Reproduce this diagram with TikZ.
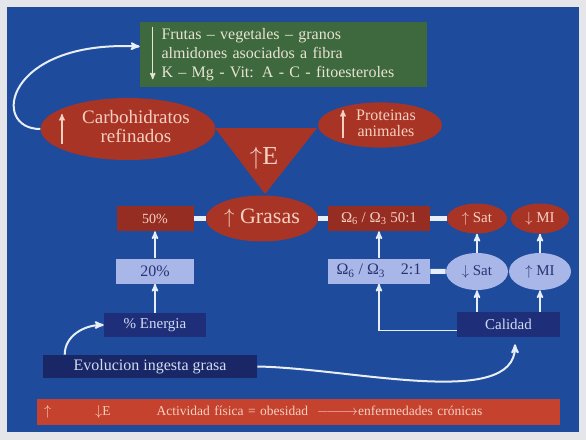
\documentclass[tikz,border=0pt]{standalone}
\usepackage{fontspec}
\setmainfont{Liberation Serif}
\usetikzlibrary{arrows,shapes.geometric}
\definecolor{fondo}{RGB}{30,75,155}
\definecolor{marco}{RGB}{228,230,234}
\definecolor{rojo}{RGB}{168,52,38}
\definecolor{rojoosc}{RGB}{150,45,35}
\definecolor{barra}{RGB}{196,66,46}
\definecolor{verde}{RGB}{62,104,62}
\definecolor{celeste}{RGB}{168,182,232}
\definecolor{azulosc}{RGB}{30,46,120}
\definecolor{rosa}{RGB}{246,208,192}
\definecolor{crema}{RGB}{232,228,210}
\definecolor{tinta}{RGB}{40,52,115}
\definecolor{linea}{RGB}{232,238,248}

\begin{document}
\begin{tikzpicture}[x=1pt,y=-1pt,>=stealth',semithick,
    roja/.style={shape=ellipse,fill=rojo,text=rosa,inner sep=0pt},
    cajaroja/.style={fill=rojoosc,text=rosa,inner sep=0pt},
    clara/.style={shape=ellipse,fill=celeste,text=tinta,inner sep=0pt},
    cajaclara/.style={fill=celeste,text=tinta,inner sep=0pt},
    oscura/.style={fill=azulosc,text=celeste!50!white,inner sep=0pt},
    union/.style={-,line width=5pt,draw=linea},
    sube/.style={->,line width=1.6pt,draw=linea},
    curva/.style={->,line width=2pt,draw=linea},
    flecha/.style={->,line width=1.3pt}]
                \useasboundingbox(0,0)rectangle(586,440);
                \fill[marco](0,0)rectangle(586,440);
                \fill[fondo](7,7)rectangle(579,432);
                % arriba
                \node[fill=verde,text=crema,minimum width=287,minimum height=65,inner sep=0pt,text width=280,align=left,font=\fontsize{16}{19}\selectfont](Verde)at(283.5, 54.5){\hspace*{18pt}\begin{tabular}{@{}l@{}}Frutas – vegetales – granos\\almidones asociados a fibra\\K – Mg - Vit: A - C - fitoesteroles\end{tabular}};
                \node[roja,minimum width=160,minimum height=62,font=\fontsize{19}{19}\selectfont](Carbo)at(128, 129){\hspace*{16pt}\begin{tabular}{@{}c@{}}Carbohidratos\\refinados\end{tabular}};
                \node[roja,minimum width=124,minimum height=43,font=\fontsize{16}{16}\selectfont](Prot)at(380, 125){\hspace*{12pt}\begin{tabular}{@{}c@{}}Proteinas\\animales\end{tabular}};
                \fill[rojo](215,128)--(317,128)--(265,194)--cycle;
                \node[text=rosa,font=\fontsize{26}{26}\selectfont](E)at(264, 158){$\uparrow$E};
                \draw[flecha,draw=crema]([xshift=13,yshift=-5]Verde.north west)--([xshift=13,yshift=8]Verde.south west);
                \draw[flecha,draw=rosa]([xshift=-66,yshift=-15]Carbo.center)--([xshift=-66,yshift=15]Carbo.center);
                \draw[flecha,draw=rosa]([xshift=-37,yshift=-13]Prot.center)--([xshift=-37,yshift=15]Prot.center);
                % fila 1
                \node[cajaroja,minimum width=77,minimum height=25,font=\fontsize{14}{14}\selectfont](R50)at(155, 218.5){50\%};
                \node[roja,minimum width=112,minimum height=46,font=\fontsize{22}{22}\selectfont](Grasas)at(262, 218.5){$\uparrow$\ Grasas};
                \node[cajaroja,minimum width=102,minimum height=25,font=\fontsize{15}{15}\selectfont](Om50)at(379, 218.5){Ω\textsubscript{6} / Ω\textsubscript{3}\ 50:1};
                \node[roja,minimum width=60,minimum height=30,font=\fontsize{15}{15}\selectfont](SatA)at(477, 218.5){$\uparrow$ Sat};
                \node[roja,minimum width=58,minimum height=30,font=\fontsize{15}{15}\selectfont](MIa)at(540, 218.5){$\downarrow$ MI};
                % fila 2
                \node[cajaclara,minimum width=78,minimum height=25,font=\fontsize{16}{16}\selectfont](R20)at(155, 271){20\%};
                \node[cajaclara,minimum width=102,minimum height=25,font=\fontsize{16}{16}\selectfont](Om21)at(379, 271){Ω\textsubscript{6} / Ω\textsubscript{3}\quad 2:1};
                \node[clara,minimum width=62,minimum height=37,font=\fontsize{15}{15}\selectfont](SatB)at(477, 271.5){$\downarrow$ Sat};
                \node[clara,minimum width=62,minimum height=37,font=\fontsize{15}{15}\selectfont](MIb)at(540, 271.5){$\uparrow$ MI};
                % abajo
                \node[oscura,minimum width=102,minimum height=24,font=\fontsize{15}{15}\selectfont](Energia)at(155, 325){\% Energia};
                \node[oscura,minimum width=103,minimum height=25,font=\fontsize{15}{15}\selectfont](Calidad)at(508.5, 324.5){Calidad};
                \node[oscura,fill=azulosc!85!black,minimum width=214,minimum height=23,font=\fontsize{16}{16}\selectfont](Evol)at(150, 366.5){Evolucion ingesta grasa};
                \node[fill=barra,text=rosa,minimum width=523,minimum height=26,inner sep=0pt,text width=509,align=left,font=\fontsize{13.5}{14}\selectfont](Barra)at(298.5, 411.5){$\uparrow$\hspace{44pt}$\downarrow$E\hspace{46pt}Actividad física = obesidad \ $\relbar\joinrel\relbar\joinrel\relbar\joinrel\rightarrow$enfermedades crónicas};
                % conexiones
                \draw[union](R50)--(Grasas);
                \draw[union](Grasas)--(Om50);
                \draw[union](Om50)--(SatA);
                \draw[union](Om21)--(SatB);
                \draw[sube](R20)--(R50);
                \draw[sube](Energia)--(R20);
                \draw[sube](Om21)--(Om50);
                \draw[sube](SatB)--(SatA);
                \draw[sube](MIb)--(MIa);
                \draw[sube](Calidad.north-|SatB)--(SatB);
                \draw[sube](Calidad.north-|MIb)--(MIb);
                \draw[sube]([yshift=-6]Calidad.west)-|(Om21);
                \draw[curva](Carbo.west)..controls(-10,129)and(5,40)..([yshift=8]Verde.west);
                \draw[curva]([xshift=22]Evol.north west)to[out=90,in=180](Energia.west);
                \draw[curva](Evol.east)..controls(350,368)and(515,410)..([xshift=6.5,yshift=-7]Calidad.south);
            \end{tikzpicture}
\end{document}
